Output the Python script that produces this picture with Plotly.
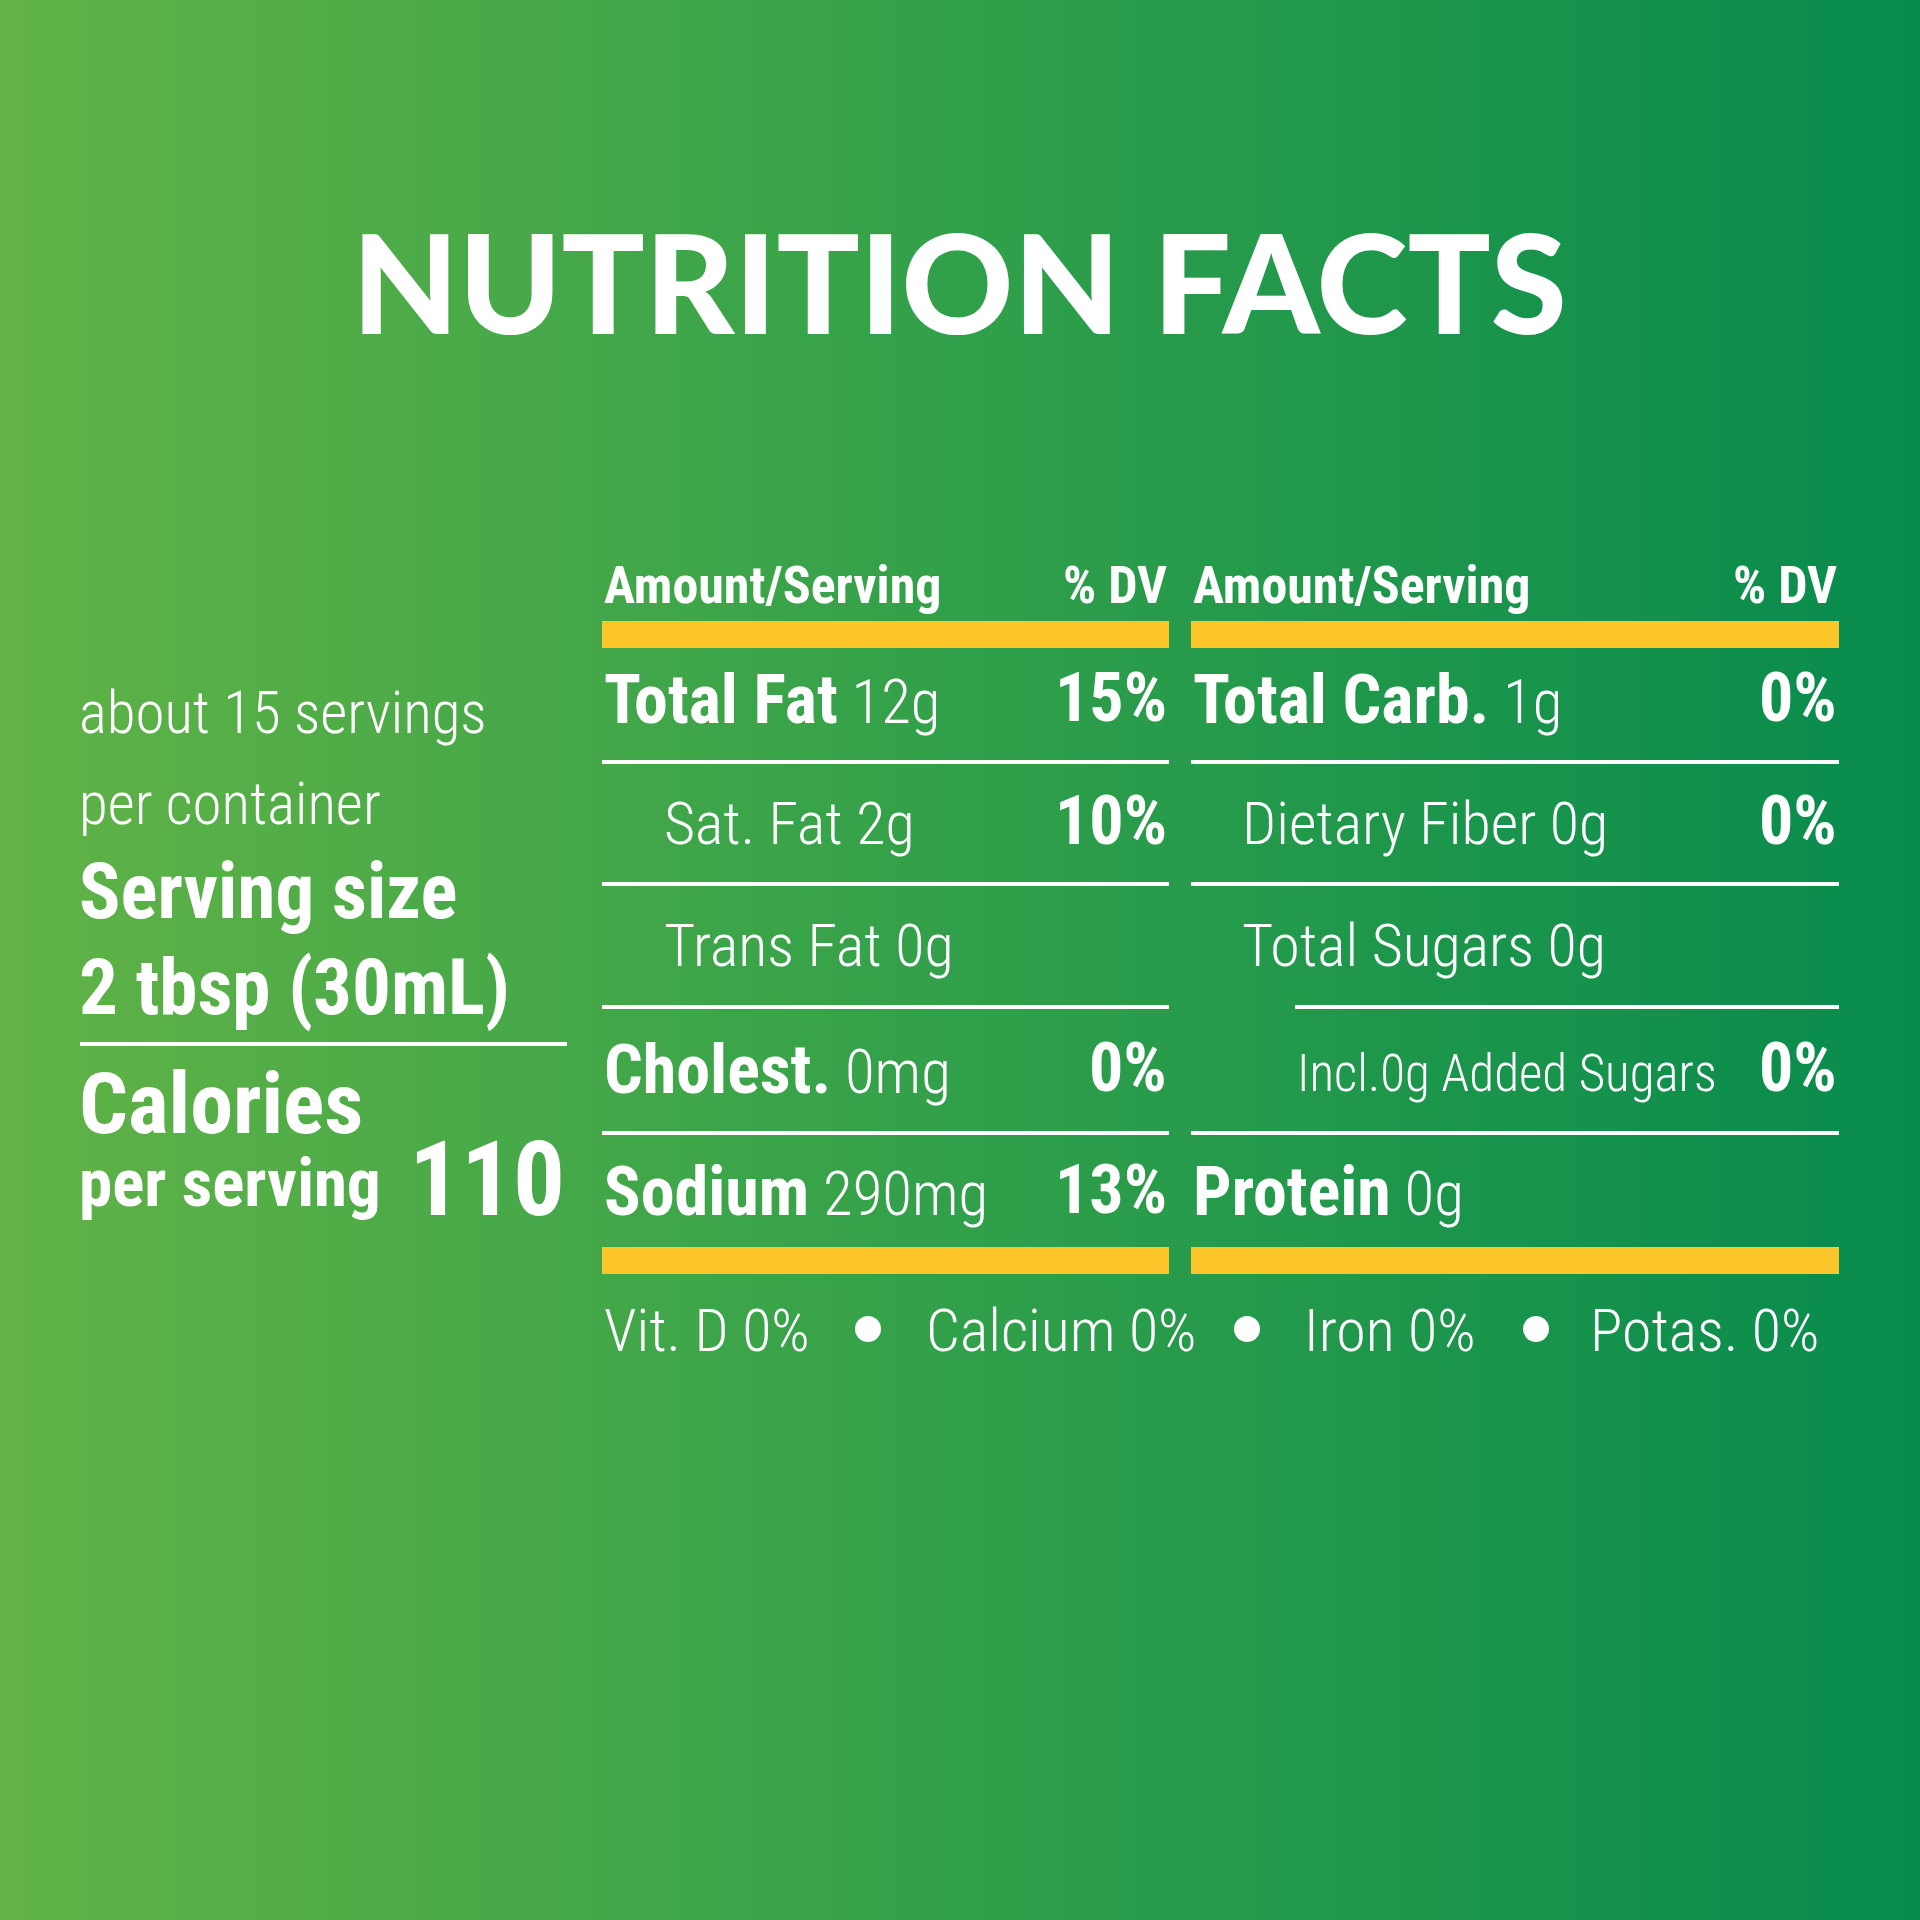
import plotly.graph_objects as go

# label content
title = "NUTRITION FACTS"
servings_lines = ["about 15 servings", "per container"]
serving_size_lines = ["Serving size", "2 tbsp (30mL)"]
calories_lines = ["Calories", "per serving"]
calories = "110"

left_names = ["Total Fat", "Sat. Fat", "Trans Fat", "Cholest.", "Sodium"]
left_amounts = ["12g", "2g", "0g", "0mg", "290mg"]
left_dv = ["15%", "10%", "", "0%", "13%"]
left_indent = [0, 1, 1, 0, 0]

right_names = ["Total Carb.", "Dietary Fiber", "Total Sugars", "Incl.0g Added Sugars", "Protein"]
right_amounts = ["1g", "0g", "0g", "", "0g"]
right_dv = ["0%", "0%", "", "0%", ""]
right_indent = [0, 1, 1, 2, 0]

vitamins = ["Vit. D 0%", "Calcium 0%", "Iron 0%", "Potas. 0%"]

# layout constants (pixels, y down)
W = 1920
FONT = "Roboto Condensed, Roboto, Liberation Sans, sans-serif"
WHITE = "white"
YELLOW = "#FCC62A"

cols = [(602, 1169), (1191, 1839)]
indents = [[0, 60, 106], [0, 49, 104]]
row_base = [721, 844, 966, 1091, 1213]
rule_y = [762, 884, 1007, 1133]
BOLD_ROW = 68
LIGHT_ROW = 61
LX = 77

fig = go.Figure()

# background gradient
fig.add_trace(go.Heatmap(
    x=[0, 960, 1920], y=[0, 1920], z=[[0, 0.5, 1], [0, 0.5, 1]],
    zsmooth="best", showscale=False, hoverinfo="skip",
    colorscale=[[0, "#61B346"], [0.5, "#31A04A"], [1, "#078B4D"]],
))

ann = []


def txt(x, base, s, size, anchor="left", bold=False, family=FONT, weight=300):
    if bold:
        s = "<b>" + s + "</b>"
    ann.append(dict(x=x, y=base - 0.35 * size, xref="x", yref="y", text=s,
                    showarrow=False, xanchor=anchor, yanchor="middle", align="left",
                    font=dict(family=family, size=size, color=WHITE, weight=weight)))


def sized(s, px):
    return "<span style='font-size:%dpx'><b>%s</b></span>" % (px, s)


def stack(x, ymid, lines, sizes, pitch_size):
    # tightly stacked lines in one text block; line pitch is 1.3 x pitch_size
    s = "<br>".join(sized(t, p) for t, p in zip(lines, sizes))
    ann.append(dict(x=x, y=ymid, xref="x", yref="y", text=s, showarrow=False,
                    xanchor="left", yanchor="middle", align="left",
                    font=dict(family=FONT, size=pitch_size, color=WHITE)))


# title
txt(959, 329, title, 138, anchor="center", family="Lato, Inter, sans-serif", weight=900)

# left block
for i, s in enumerate(servings_lines):
    txt(LX, 733 + i * 91, s, 59)
stack(LX, 940, serving_size_lines, [77, 77], 74)
stack(LX, 1137, calories_lines, [86, 67], 56)
txt(567, 1216, calories, 103, anchor="right", bold=True)

shapes = [dict(type="line", x0=80, x1=567, y0=1044, y1=1044,
               line=dict(color=WHITE, width=4), xref="x", yref="y")]

# table columns
tables = [(left_names, left_amounts, left_dv, left_indent),
          (right_names, right_amounts, right_dv, right_indent)]
for (x0, x1), ind_px, (names, amts, dvs, ind) in zip(cols, indents, tables):
    txt(x0, 604, "Amount/Serving", 52, bold=True)
    txt(x1, 604, "% DV", 52, anchor="right", bold=True)
    for yy in (621, 1247):
        shapes.append(dict(type="rect", x0=x0, x1=x1, y0=yy, y1=yy + 27,
                           fillcolor=YELLOW, line=dict(width=0), xref="x", yref="y"))
    for i in range(5):
        if ind[i] == 0:
            s = sized(names[i], BOLD_ROW) + " " + amts[i]
            size = LIGHT_ROW
        else:
            s = (names[i] + " " + amts[i]).strip()
            size = 51 if ind[i] == 2 else LIGHT_ROW - 1
        txt(x0 + ind_px[ind[i]], row_base[i], s, size)
        if dvs[i]:
            txt(x1, row_base[i] + 1, dvs[i], BOLD_ROW, anchor="right", bold=True)
    for i, yy in enumerate(rule_y):
        start = x0 + ind_px[2] if ind[i + 1] == 2 else x0
        shapes.append(dict(type="line", x0=start, x1=x1, y0=yy, y1=yy,
                           line=dict(color=WHITE, width=4), xref="x", yref="y"))

# vitamins footer
vit_x = [602, 924, 1302, 1588]
for x, s in zip(vit_x, vitamins):
    txt(x, 1351, s, 60)
fig.add_trace(go.Scatter(x=[868, 1247, 1536], y=[1329, 1329, 1329], mode="markers",
                         marker=dict(color=WHITE, size=26), hoverinfo="skip"))

fig.update_layout(
    width=W, height=W, margin=dict(l=0, r=0, t=0, b=0),
    xaxis=dict(range=[0, W], visible=False, fixedrange=True),
    yaxis=dict(range=[W, 0], visible=False, fixedrange=True),
    showlegend=False, annotations=ann, shapes=shapes,
    paper_bgcolor="#31A04A", plot_bgcolor="#31A04A",
)
fig.write_html("out.html", config={"displayModeBar": False},
               post_script="document.body.style.margin='0';")
